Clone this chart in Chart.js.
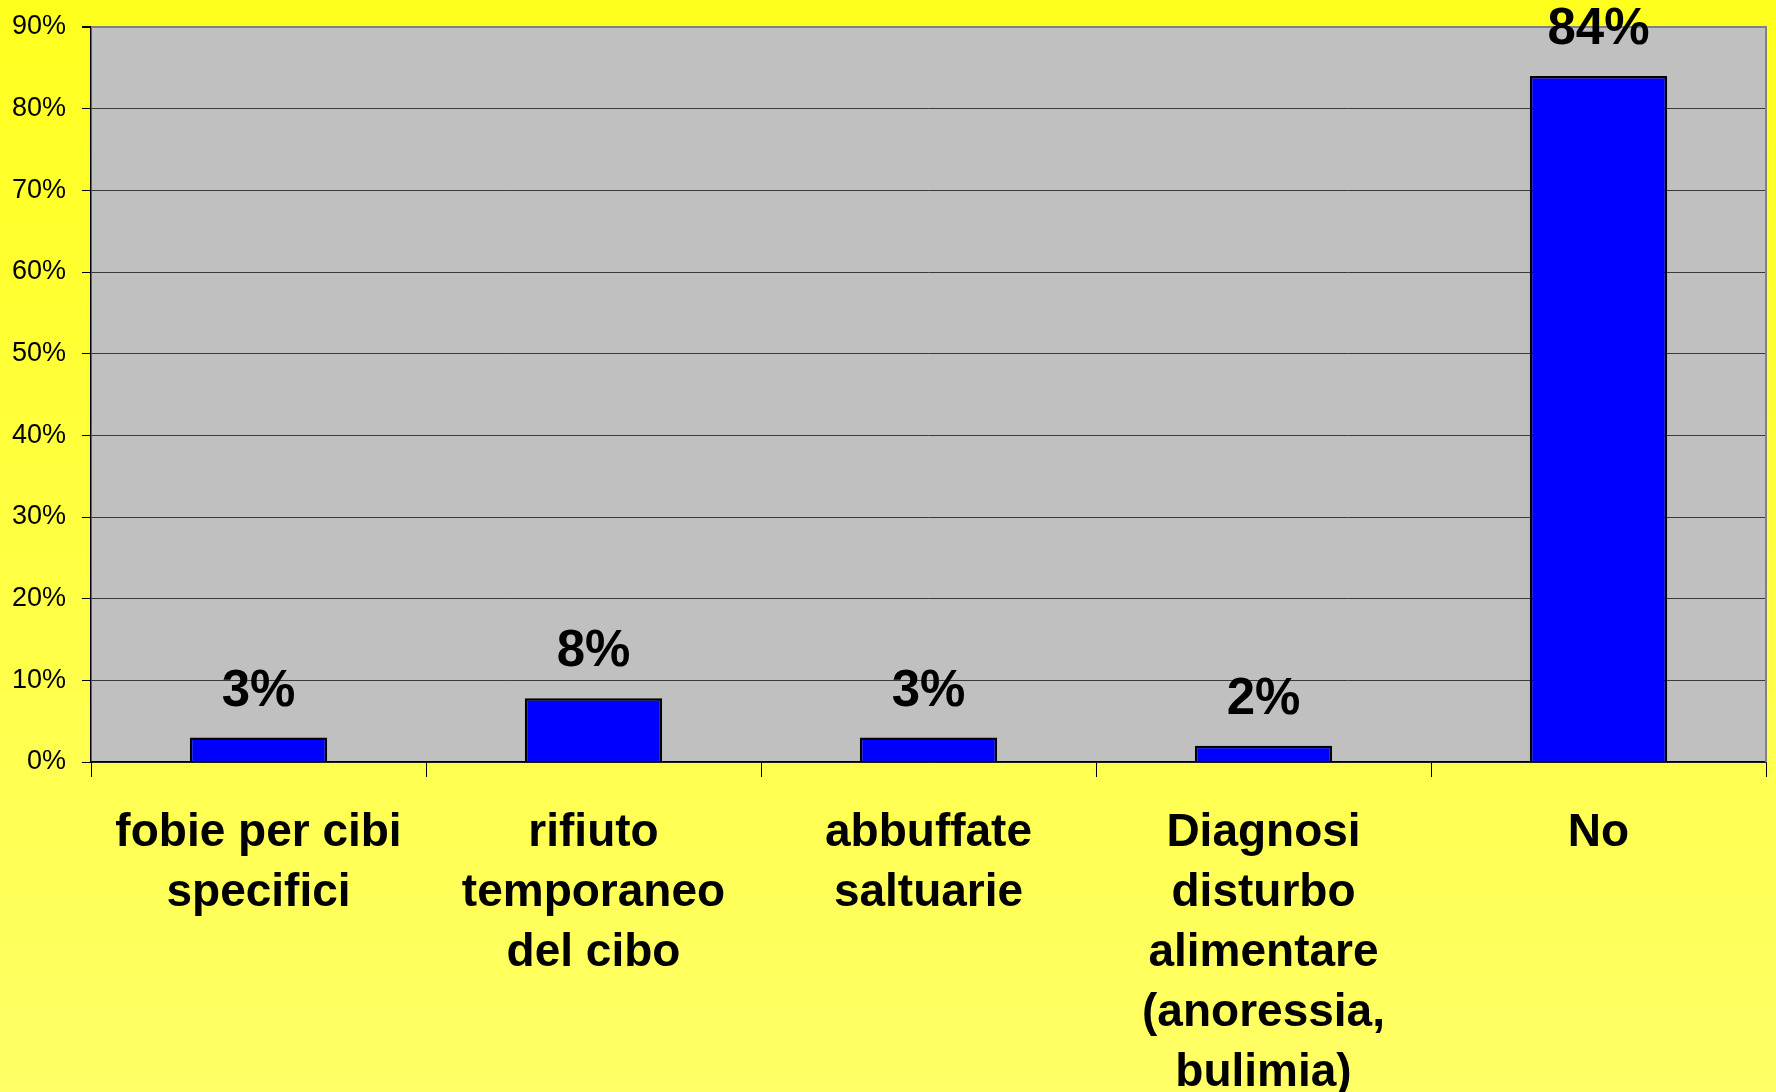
<!DOCTYPE html>
<html>
<head>
<meta charset="utf-8">
<script src="https://cdn.jsdelivr.net/npm/chart.js@4.4.0/dist/chart.umd.min.js"></script>
<style>
    html, body { margin: 0; padding: 0; overflow: hidden; }
    #wrap { width: 1776px; height: 1092px; }
</style>
</head>
<body>
<div id="wrap"><canvas id="chart"></canvas></div>
<script>
const categories = [
    ["fobie per cibi", "specifici"],
    ["rifiuto", "temporaneo", "del cibo"],
    ["abbuffate", "saltuarie"],
    ["Diagnosi", "disturbo", "alimentare", "(anoressia,", "bulimia)"],
    ["No"]
];
const percentages = [3, 7.8, 3, 2, 84];
const yMax = 90;
const yStep = 10;

const FONT = "'Liberation Sans', Arial, sans-serif";

// yellow gradient page + grey plot area
const backgroundPlugin = {
    id: "backgroundPlugin",
    beforeDraw(chart) {
        const {ctx, width, height, chartArea} = chart;
        ctx.save();
        const grad = ctx.createLinearGradient(0, 0, 0, height);
        grad.addColorStop(0, "#ffff1e");
        grad.addColorStop(1, "#ffff66");
        ctx.fillStyle = grad;
        ctx.fillRect(0, 0, width, height);
        ctx.fillStyle = "#c0c0c0";
        ctx.fillRect(chartArea.left, chartArea.top, chartArea.right - chartArea.left, chartArea.bottom - chartArea.top);
        ctx.restore();
    },
    beforeDatasetsDraw(chart) {
        const {ctx, chartArea} = chart;
        ctx.save();
        ctx.strokeStyle = "#808080";
        ctx.lineWidth = 2;
        ctx.beginPath();
        ctx.moveTo(chartArea.left, chartArea.top);
        ctx.lineTo(chartArea.right, chartArea.top);
        ctx.lineTo(chartArea.right, chartArea.bottom);
        ctx.stroke();
        ctx.restore();
    }
};

// value labels above bars
const valueLabels = {
    id: "valueLabels",
    afterDatasetsDraw(chart) {
        const {ctx} = chart;
        const meta = chart.getDatasetMeta(0);
        ctx.save();
        ctx.font = "bold 51px " + FONT;
        ctx.fillStyle = "#000";
        ctx.textAlign = "center";
        ctx.textBaseline = "alphabetic";
        meta.data.forEach((bar, i) => {
            ctx.fillText(Math.round(percentages[i]) + "%", bar.x, bar.y - 32);
        });
        ctx.restore();
    }
};

new Chart(document.getElementById("chart"), {
    type: "bar",
    data: {
        labels: categories,
        datasets: [{
            data: percentages,
            backgroundColor: "#0000ff",
            borderColor: "#000",
            borderWidth: 2.5,
            borderSkipped: "bottom",
            barPercentage: 0.41,
            categoryPercentage: 1
        }]
    },
    options: {
        responsive: true,
        maintainAspectRatio: false,
        animation: false,
        layout: {padding: {top: 27, right: 10, left: 0, bottom: 0}},
        plugins: {
            legend: {display: false},
            tooltip: {enabled: false}
        },
        scales: {
            x: {
                offset: true,
                grid: {
                    offset: true,
                    drawOnChartArea: false,
                    tickLength: 15,
                    tickColor: "#000",
                    tickWidth: 1
                },
                border: {color: "#000", width: 1.5},
                ticks: {
                    color: "#000",
                    padding: 26,
                    maxRotation: 0,
                    autoSkip: false,
                    font: {family: FONT, size: 46, weight: "bold", lineHeight: "60px"}
                },
                afterFit(scale) { scale.height = 330; }
            },
            y: {
                min: 0,
                max: yMax,
                ticks: {
                    stepSize: yStep,
                    color: "#000",
                    padding: 16,
                    font: {family: FONT, size: 27},
                    callback: v => v + "%"
                },
                grid: {
                    color: ctx => ctx.tick && ctx.tick.value === yMax ? "#808080" : "#3a3a3a",
                    lineWidth: ctx => ctx.tick && ctx.tick.value === yMax ? 2 : 1,
                    tickLength: 9,
                    tickColor: "#000"
                },
                border: {color: "#000", width: 1.5},
                afterFit(scale) {
                    scale.width = 91;
                    scale.paddingTop = 0;
                    scale.paddingBottom = 0;
                }
            }
        }
    },
    plugins: [backgroundPlugin, valueLabels]
});
</script>
</body>
</html>
